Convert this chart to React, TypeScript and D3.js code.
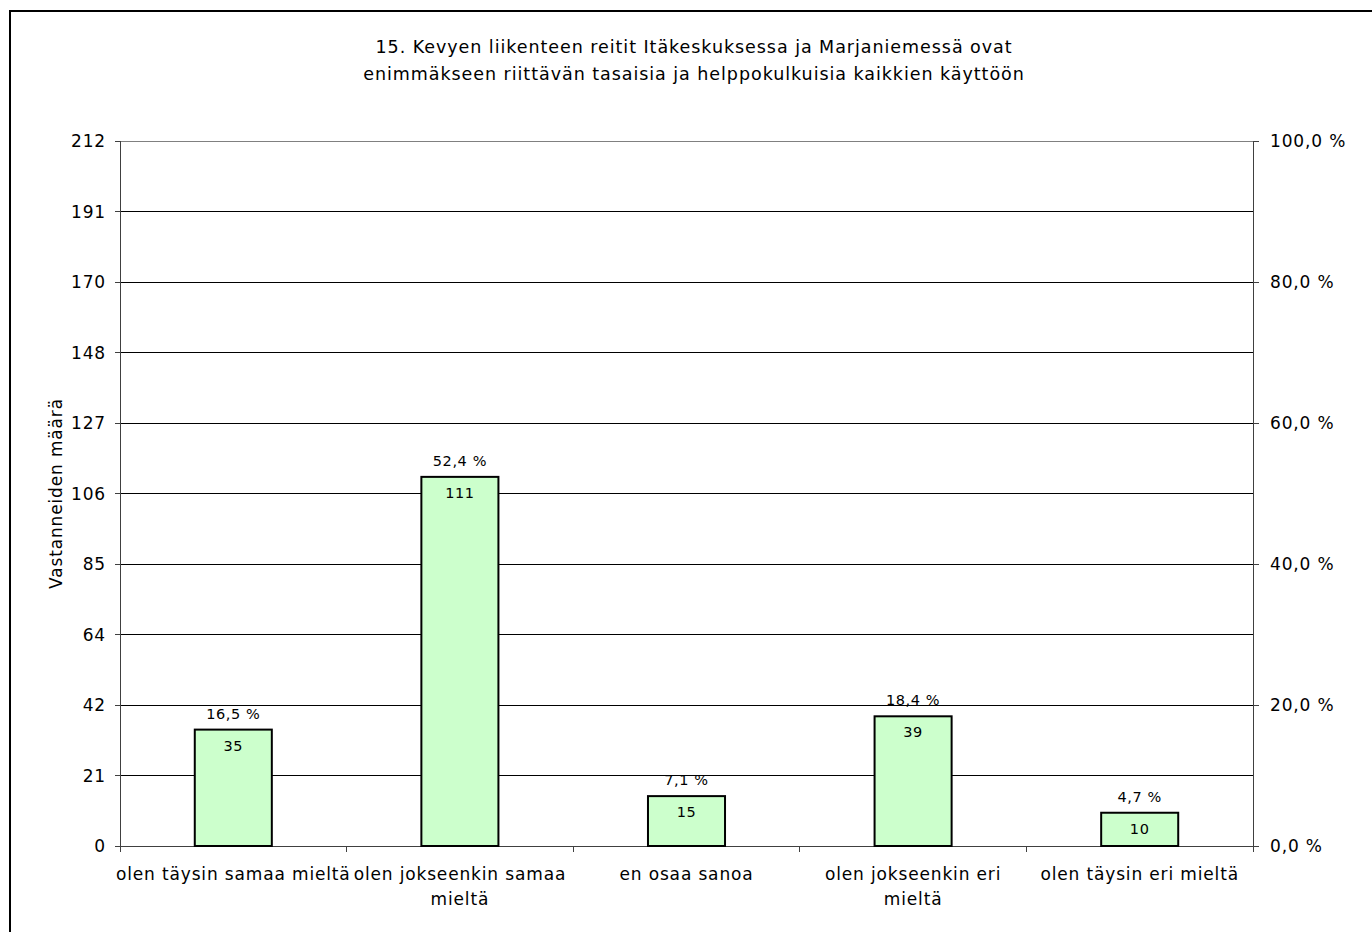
import React from "react";
import * as d3 from "d3";

const categories = [
  ["olen täysin samaa mieltä"],
  ["olen jokseenkin samaa", "mieltä"],
  ["en osaa sanoa"],
  ["olen jokseenkin eri", "mieltä"],
  ["olen täysin eri mieltä"],
];
const counts = [35, 111, 15, 39, 10];
const percents = ["16,5 %", "52,4 %", "7,1 %", "18,4 %", "4,7 %"];
const leftTicks = [0, 21, 42, 64, 85, 106, 127, 148, 170, 191, 212];
const rightTicks = ["0,0 %", "20,0 %", "40,0 %", "60,0 %", "80,0 %", "100,0 %"];
const titleLines = [
  "15. Kevyen liikenteen reitit Itäkeskuksessa ja Marjaniemessä ovat",
  "enimmäkseen riittävän tasaisia ja helppokulkuisia kaikkien käyttöön",
];
const yMax = 212;

const font = "'DejaVu Sans', Verdana, sans-serif";
const axisText = { fontFamily: font, fontSize: 17, letterSpacing: 0.85, fill: "#000" };
const barText = { fontFamily: font, fontSize: 14.5, letterSpacing: 0.6, fill: "#000" };

const App = () => {
  const width = 1372;
  const height = 932;
  const left = 120;
  const right = 1253;
  const top = 141;
  const bottom = 846;

  const x = d3
    .scaleBand<number>()
    .domain(d3.range(categories.length))
    .range([left, right])
    .paddingInner(0.66)
    .paddingOuter(0.33);
  const xStep = (right - left) / categories.length;
  const y = d3.scaleLinear().domain([0, yMax]).range([bottom, top]);
  const yPct = d3.scaleLinear().domain([0, 100]).range([bottom, top]);
  const gridVals = d3.range(0, 11).map((i) => (yMax * i) / 10);

  return (
    <svg width={width} height={height} style={{ position: "absolute", left: 0, top: 0 }}>
      <rect x={0} y={0} width={width} height={height} fill="#fff" />
      <rect x={10} y={11} width={width + 20} height={height + 20} fill="none" stroke="#000" strokeWidth={2} />

      {titleLines.map((t, i) => (
        <text
          key={i}
          x={694}
          y={53 + i * 27}
          textAnchor="middle"
          fontFamily={font}
          fontSize={17.5}
          letterSpacing={0.95}
          fill="#000"
        >
          {t}
        </text>
      ))}

      {gridVals.map((v, i) => (
        <line
          key={i}
          x1={left}
          x2={right}
          y1={y(v)}
          y2={y(v)}
          stroke={i === 10 ? "#808080" : "#000"}
          strokeWidth={1}
          shapeRendering="crispEdges"
        />
      ))}

      {/* left axis */}
      <line x1={left} x2={left} y1={top} y2={bottom + 6} stroke="#404040" shapeRendering="crispEdges" />
      {gridVals.map((v, i) => (
        <g key={i}>
          <line x1={left - 5} x2={left} y1={y(v)} y2={y(v)} stroke="#404040" shapeRendering="crispEdges" />
          <text x={left - 14} y={y(v)} dy="0.36em" textAnchor="end" {...axisText}>
            {leftTicks[i]}
          </text>
        </g>
      ))}

      {/* right axis */}
      <line x1={right} x2={right} y1={top} y2={bottom + 6} stroke="#404040" shapeRendering="crispEdges" />
      {rightTicks.map((t, i) => (
        <g key={i}>
          <line
            x1={right}
            x2={right + 6}
            y1={yPct(i * 20)}
            y2={yPct(i * 20)}
            stroke="#404040"
            shapeRendering="crispEdges"
          />
          <text x={right + 17} y={yPct(i * 20)} dy="0.36em" textAnchor="start" {...axisText}>
            {t}
          </text>
        </g>
      ))}

      {/* x axis ticks */}
      <line x1={left} x2={right} y1={bottom} y2={bottom} stroke="#404040" shapeRendering="crispEdges" />
      {d3.range(categories.length + 1).map((i) => (
        <line
          key={i}
          x1={left + i * xStep}
          x2={left + i * xStep}
          y1={bottom}
          y2={bottom + 6}
          stroke="#404040"
          shapeRendering="crispEdges"
        />
      ))}

      {/* bars */}
      {counts.map((c, i) => {
        const bx = x(i) as number;
        const bw = x.bandwidth();
        const cx = bx + bw / 2;
        return (
          <g key={i}>
            <rect
              x={bx}
              y={y(c)}
              width={bw}
              height={bottom - y(c)}
              fill="#ccffcc"
              stroke="#000"
              strokeWidth={2}
            />
            <text x={cx} y={y(c) - 11} textAnchor="middle" {...barText}>
              {percents[i]}
            </text>
            <text x={cx} y={y(c) + 21} textAnchor="middle" {...barText}>
              {c}
            </text>
          </g>
        );
      })}

      {/* category labels */}
      {categories.map((lines, i) => (
        <text key={i} x={left + xStep * (i + 0.5)} y={880} textAnchor="middle" {...axisText}>
          {lines.map((l, j) => (
            <tspan key={j} x={left + xStep * (i + 0.5)} dy={j === 0 ? 0 : 25}>
              {l}
            </tspan>
          ))}
        </text>
      ))}

      <text
        transform={`translate(62,${(top + bottom) / 2}) rotate(-90)`}
        textAnchor="middle"
        {...axisText}
      >
        Vastanneiden määrä
      </text>
    </svg>
  );
};

export default App;
